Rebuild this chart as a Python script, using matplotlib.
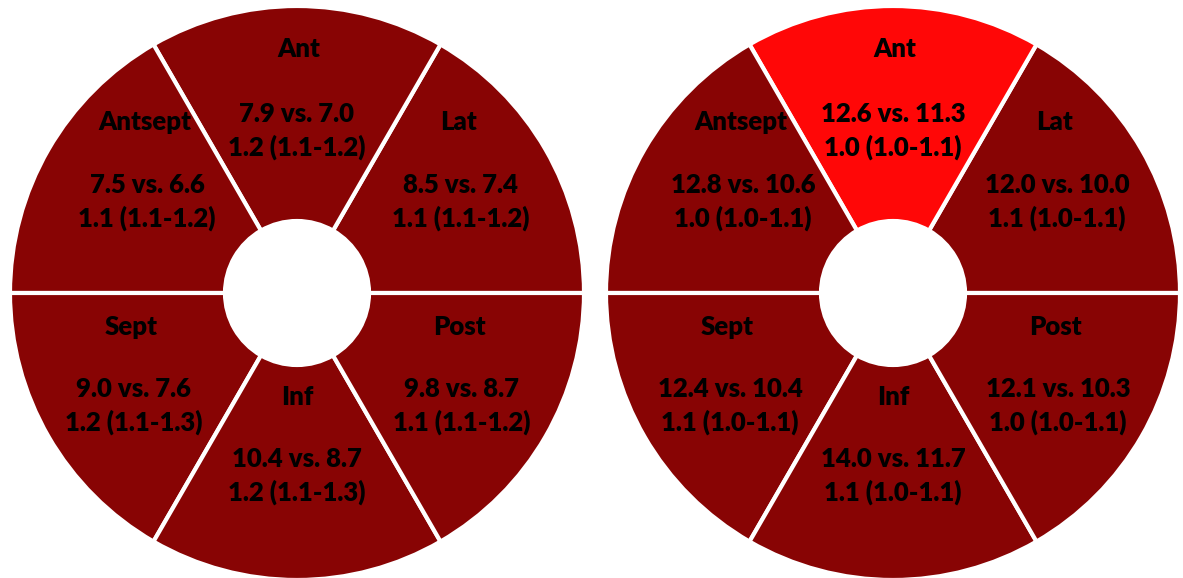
import matplotlib.pyplot as plt
from matplotlib.patches import Wedge, Circle

# segment names in the order they are drawn (counter-clockwise from 0 deg)
segments = ['Lat', 'Ant', 'Antsept', 'Sept', 'Inf', 'Post']

left_vs = ['8.5 vs. 7.4', '7.9 vs. 7.0', '7.5 vs. 6.6', '9.0 vs. 7.6', '10.4 vs. 8.7', '9.8 vs. 8.7']
left_ratio = ['1.1 (1.1-1.2)', '1.2 (1.1-1.2)', '1.1 (1.1-1.2)', '1.2 (1.1-1.3)', '1.2 (1.1-1.3)', '1.1 (1.1-1.2)']

right_vs = ['12.0 vs. 10.0', '12.6 vs. 11.3', '12.8 vs. 10.6', '12.4 vs. 10.4', '14.0 vs. 11.7', '12.1 vs. 10.3']
right_ratio = ['1.1 (1.0-1.1)', '1.0 (1.0-1.1)', '1.0 (1.0-1.1)', '1.1 (1.0-1.1)', '1.1 (1.0-1.1)', '1.0 (1.0-1.1)']

left_fill = ['#880404'] * 6
right_fill = ['#880404', '#ff0707', '#880404', '#880404', '#880404', '#880404']

W, H = 1183, 578
R_OUT, R_IN = 287, 72

# label / value offsets from the circle centre (pixels)
label_pos = [(162, 171), (2, 244), (-152, 171), (-166, -34), (0, -104), (162, -34)]
value_pos = [(164, 108), (0, 179), (-150, 108), (-163, -96), (0, -166), (165, -96)]
line_gap = 33

fig = plt.figure(figsize=(W / 100, H / 100), dpi=100)
ax = fig.add_axes([0, 0, 1, 1])
ax.set_xlim(0, W)
ax.set_ylim(0, H)
ax.set_aspect('equal')
ax.axis('off')

font = dict(family='Lato', fontweight='heavy', fontsize=18.5, color='black',
            ha='center', va='center')


def draw_bullseye(cx, cy, fills, vs, ratio):
    for i, name in enumerate(segments):
        w = Wedge((cx, cy), R_OUT, 60 * i, 60 * (i + 1), width=R_OUT - R_IN,
                  facecolor=fills[i], edgecolor='white', linewidth=3)
        ax.add_patch(w)
        lx, ly = label_pos[i]
        ax.text(cx + lx, cy + ly, name, **font)
        vx, vy = value_pos[i]
        ax.text(cx + vx, cy + vy, vs[i], **font)
        ax.text(cx + vx, cy + vy - line_gap, ratio[i], **font)
    ax.add_patch(Circle((cx, cy), R_IN, facecolor='white', edgecolor='none'))


draw_bullseye(297, H - 293, left_fill, left_vs, left_ratio)
draw_bullseye(893, H - 293, right_fill, right_vs, right_ratio)

fig.savefig('out.png', dpi=100)
